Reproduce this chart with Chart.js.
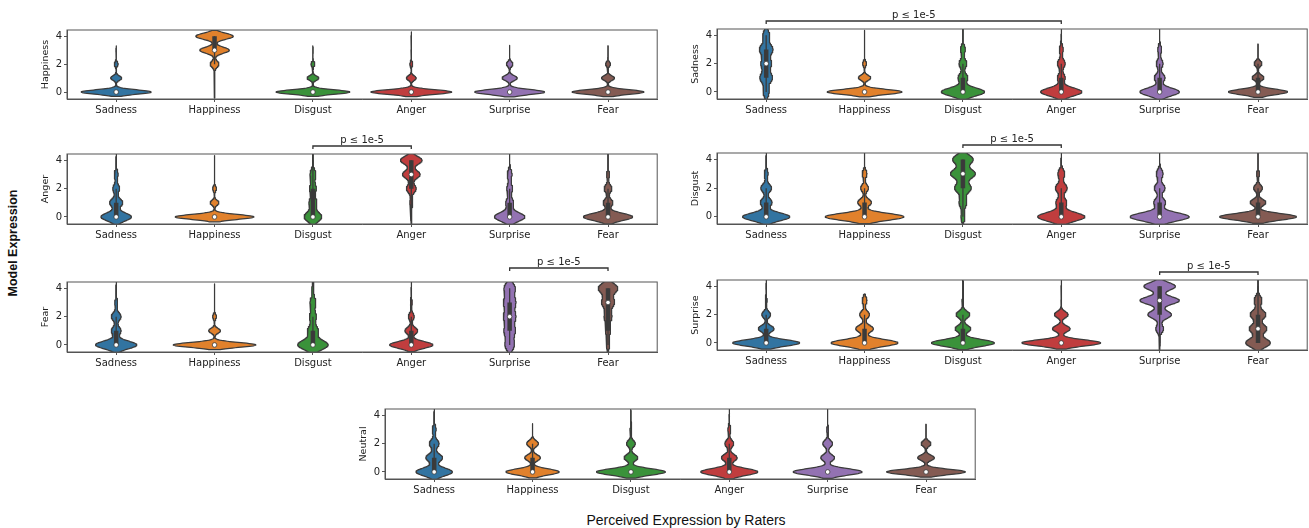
<!DOCTYPE html>
<html>
<head>
<meta charset="utf-8">
<script src="https://cdn.jsdelivr.net/npm/chart.js@4.4.0/dist/chart.umd.min.js"></script>
<style>
body{margin:0;background:#fff;width:1309px;height:528px;position:relative;overflow:hidden}
canvas{position:absolute}
.lbl{position:absolute;font-family:"Liberation Sans",Arial,sans-serif;color:#111;white-space:nowrap;transform:translate(-50%,-50%)}
#ylab{left:13px;top:243px;font-size:12.5px;font-weight:bold;transform:translate(-50%,-50%) rotate(-90deg)}
#xlab{left:686px;top:520px;font-size:14px}
</style>
</head>
<body>
<div class="lbl" id="ylab">Model Expression</div>
<div class="lbl" id="xlab">Perceived Expression by Raters</div>
<script>
const categories = ['Sadness','Happiness','Disgust','Anger','Surprise','Fear'];
const panels = ['Happiness','Sadness','Anger','Disgust','Fear','Surprise','Neutral'];
const yTicks = [0, 2, 4];
const levels = [0, 1, 2, 3, 4];
const colors = ['#3274a1','#e1812c','#3a923a','#c03d3e','#9372b2','#845b53'];

// violin half widths (in category units) at ratings 0..4, one row per category
const widthsHappiness = [
  [0.355,0.056,0.02,0.003,0],
  [0.003,0.004,0.045,0.15,0.19],
  [0.375,0.06,0.02,0.003,0],
  [0.41,0.05,0.015,0.003,0.003],
  [0.355,0.077,0.033,0.003,0],
  [0.365,0.066,0.025,0.003,0]
];
const widthsSadness = [
  [0.03,0.065,0.055,0.07,0.035],
  [0.38,0.063,0.02,0.003,0.003],
  [0.22,0.05,0.04,0.025,0.003],
  [0.21,0.04,0.04,0.02,0.003],
  [0.2,0.055,0.035,0.02,0.003],
  [0.3,0.06,0.04,0.003,0]
];
const widthsAnger = [
  [0.155,0.067,0.035,0.02,0.003],
  [0.4,0.045,0.02,0.003,0.003],
  [0.09,0.04,0.035,0.03,0.003],
  [0.005,0.015,0.05,0.09,0.11],
  [0.155,0.04,0.03,0.025,0.003],
  [0.25,0.05,0.04,0.015,0.003]
];
const widthsDisgust = [
  [0.24,0.06,0.055,0.02,0.003],
  [0.4,0.07,0.04,0.025,0.003],
  [0.02,0.04,0.085,0.127,0.105],
  [0.24,0.055,0.06,0.035,0.003],
  [0.3,0.06,0.055,0.035,0.003],
  [0.39,0.08,0.045,0.015,0.003]
];
const widthsFear = [
  [0.21,0.05,0.05,0.015,0.003],
  [0.42,0.06,0.02,0.003,0.003],
  [0.155,0.055,0.035,0.03,0.01],
  [0.22,0.065,0.03,0.01,0.003],
  [0.05,0.06,0.065,0.065,0.06],
  [0.015,0.025,0.04,0.066,0.1]
];
const widthsSurprise = [
  [0.34,0.08,0.045,0.01,0.003],
  [0.34,0.09,0.05,0.025,0],
  [0.32,0.08,0.07,0.01,0.003],
  [0.4,0.09,0.07,0.003,0.003],
  [0.005,0.04,0.12,0.2,0.16],
  [0.125,0.09,0.08,0.04,0.003]
];
const widthsNeutral = [
  [0.185,0.085,0.05,0.02,0.003],
  [0.27,0.08,0.06,0.003,0],
  [0.35,0.07,0.045,0.01,0.003],
  [0.29,0.08,0.045,0.015,0.003],
  [0.35,0.07,0.05,0.01,0.003],
  [0.4,0.085,0.05,0.003,0]
];
const violinWidths = [widthsHappiness, widthsSadness, widthsAnger, widthsDisgust, widthsFear, widthsSurprise, widthsNeutral];

const q1Values = [
  [0,3,0,0,0,0],
  [1,0,0,0,0,0],
  [0,0,0,2,0,0],
  [0,0,2,0,0,0],
  [0,0,0,0,1,1],
  [0,0,0,0,2,0],
  [0,0,0,0,0,0]
];
const medianValues = [
  [0,3,0,0,0,0],
  [2,0,0,0,0,0],
  [0,0,0,3,0,0],
  [0,0,3,0,0,0],
  [0,0,0,0,2,3],
  [0,0,0,0,3,1],
  [0,0,0,0,0,0]
];
const q3Values = [
  [0,4,0,0,0,0],
  [3,0,1,1,1,1],
  [1,0,2,4,1,1],
  [1,1,4,1,1,1],
  [1,0,1,1,3,4],
  [1,1,1,0,4,2],
  [1,1,0,1,0,0]
];
const brackets = [null,[0,3],[2,3],[2,3],[4,5],[4,5],null];
const bracketText = 'p ≤ 1e-5';

// frame of each plot area on the page
const frames = [
  {l:67, t:30, r:658, b:99, gap:8},
  {l:717, t:29, r:1308, b:99, gap:8},
  {l:67, t:154, r:658, b:224, gap:8},
  {l:717, t:153, r:1308, b:224, gap:8},
  {l:67, t:282, r:658, b:352, gap:14},
  {l:717, t:280, r:1308, b:350, gap:8},
  {l:385, t:409, r:976, b:479, gap:8}
];
const PAD_L = 31, PAD_T = 30, PAD_B = 22, PAD_R = 4;
const INK = '#3b3b3b';

function violinPoints(w, i){
  const tot = w.reduce((a,b)=>a+b,0);
  const mean = w.reduce((a,v,k)=>a+v*k,0)/tot;
  const sd = Math.sqrt(w.reduce((a,v,k)=>a+v*(k-mean)*(k-mean),0)/tot);
  const bw = Math.max(0.135, 0.28*sd);
  const present = levels.filter(k=>w[k]>0);
  const lo = present[0]-2*bw, hi = present[present.length-1]+2*bw;
  const ys = [];
  for (let y=lo; y<=hi+1e-9; y+=0.02) ys.push(y);
  const raw = ys.map(y=>w.reduce((a,v,k)=>a+v*Math.exp(-((y-k)*(y-k))/(2*bw*bw)),0));
  const s = Math.max(...w)/Math.max(...raw);
  const right = ys.map((y,j)=>({x:i+raw[j]*s, y:y}));
  const left = ys.map((y,j)=>({x:i-raw[j]*s, y:y})).reverse();
  return right.concat(left, [right[0]]);
}

const framePlugin = {
  id:'frame',
  afterDatasetsDraw(chart){
    const a = chart.chartArea, ctx = chart.ctx;
    ctx.save();
    ctx.strokeStyle = '#555';
    ctx.lineWidth = 1;
    ctx.strokeRect(a.left, a.top, a.right-a.left, a.bottom-a.top);
    ctx.restore();
  },
  afterDraw(chart){
    const b = chart.options.plugins.frame.bracket;
    if (!b) return;
    const ctx = chart.ctx, xs = chart.scales.x;
    const x1 = xs.getPixelForValue(b[0]), x2 = xs.getPixelForValue(b[1]);
    const y = chart.chartArea.top - chart.options.plugins.frame.gap;
    ctx.save();
    ctx.strokeStyle = '#333';
    ctx.lineWidth = 1.3;
    ctx.beginPath();
    ctx.moveTo(x1, y+3); ctx.lineTo(x1, y); ctx.lineTo(x2, y); ctx.lineTo(x2, y+3);
    ctx.stroke();
    ctx.fillStyle = '#222';
    ctx.font = '10px "DejaVu Sans"';
    ctx.textAlign = 'center';
    ctx.textBaseline = 'alphabetic';
    ctx.fillText(bracketText, (x1+x2)/2, y-3);
    ctx.restore();
  }
};

panels.forEach((name, p)=>{
  const f = frames[p];
  const c = document.createElement('canvas');
  c.width = f.r - f.l + PAD_L + PAD_R;
  c.height = f.b - f.t + PAD_T + PAD_B;
  c.style.left = (f.l - PAD_L) + 'px';
  c.style.top = (f.t - PAD_T) + 'px';
  document.body.appendChild(c);

  const datasets = [];
  violinWidths[p].forEach((w,i)=>{
    datasets.push({data:violinPoints(w,i), borderColor:INK, borderWidth:1.25, backgroundColor:colors[i],
      fill:'shape', pointRadius:0, tension:0, borderJoinStyle:'round', order:3});
    const q1 = q1Values[p][i], q3 = q3Values[p][i];
    if (q3 > q1){
      const present = levels.filter(k=>w[k]>0);
      const iqr = q3 - q1;
      const wlo = Math.max(present[0], Math.ceil(q1-1.5*iqr));
      const whi = Math.min(present[present.length-1], Math.floor(q3+1.5*iqr));
      datasets.push({data:[{x:i,y:wlo},{x:i,y:whi}], borderColor:INK, borderWidth:1.3, pointRadius:0, order:2});
      datasets.push({data:[{x:i,y:q1},{x:i,y:q3}], borderColor:INK, borderWidth:4.5, borderCapStyle:'butt', pointRadius:0, order:2});
    }
    datasets.push({data:[{x:i,y:medianValues[p][i]}], showLine:false, pointRadius:2.3,
      pointBackgroundColor:'#fff', pointBorderColor:INK, pointBorderWidth:0.8, order:1});
  });

  new Chart(c, {
    type:'line',
    data:{datasets},
    plugins:[framePlugin],
    options:{
      responsive:false, animation:false, events:[],
      layout:{padding:{top:PAD_T, right:PAD_R, left:0, bottom:0}},
      plugins:{legend:{display:false}, tooltip:{enabled:false}, frame:{bracket:brackets[p], gap:f.gap}},
      scales:{
        x:{type:'linear', min:-0.5, max:5.5,
          afterBuildTicks:s=>{ s.ticks = categories.map((c,i)=>({value:i})); },
          afterFit:s=>{ s.height = PAD_B; },
          grid:{drawOnChartArea:false, drawTicks:true, tickLength:3, color:'#555'},
          border:{display:true, color:'#555', width:1},
          ticks:{callback:v=>categories[v], font:{family:'DejaVu Sans', size:10}, color:'#222', padding:2, autoSkip:false, maxRotation:0}
        },
        y:{type:'linear', min:-0.5, max:4.45,
          afterBuildTicks:s=>{ s.ticks = yTicks.map(v=>({value:v})); },
          afterFit:s=>{ s.width = PAD_L; },
          grid:{drawOnChartArea:false, drawTicks:true, tickLength:3, color:'#555'},
          border:{display:true, color:'#555', width:1},
          ticks:{font:{family:'DejaVu Sans', size:10}, color:'#222', padding:2},
          title:{display:true, text:name, font:{family:'DejaVu Sans', size:9.5}, color:'#222', padding:{top:4, bottom:2}}
        }
      }
    }
  });
});
</script>
</body>
</html>
